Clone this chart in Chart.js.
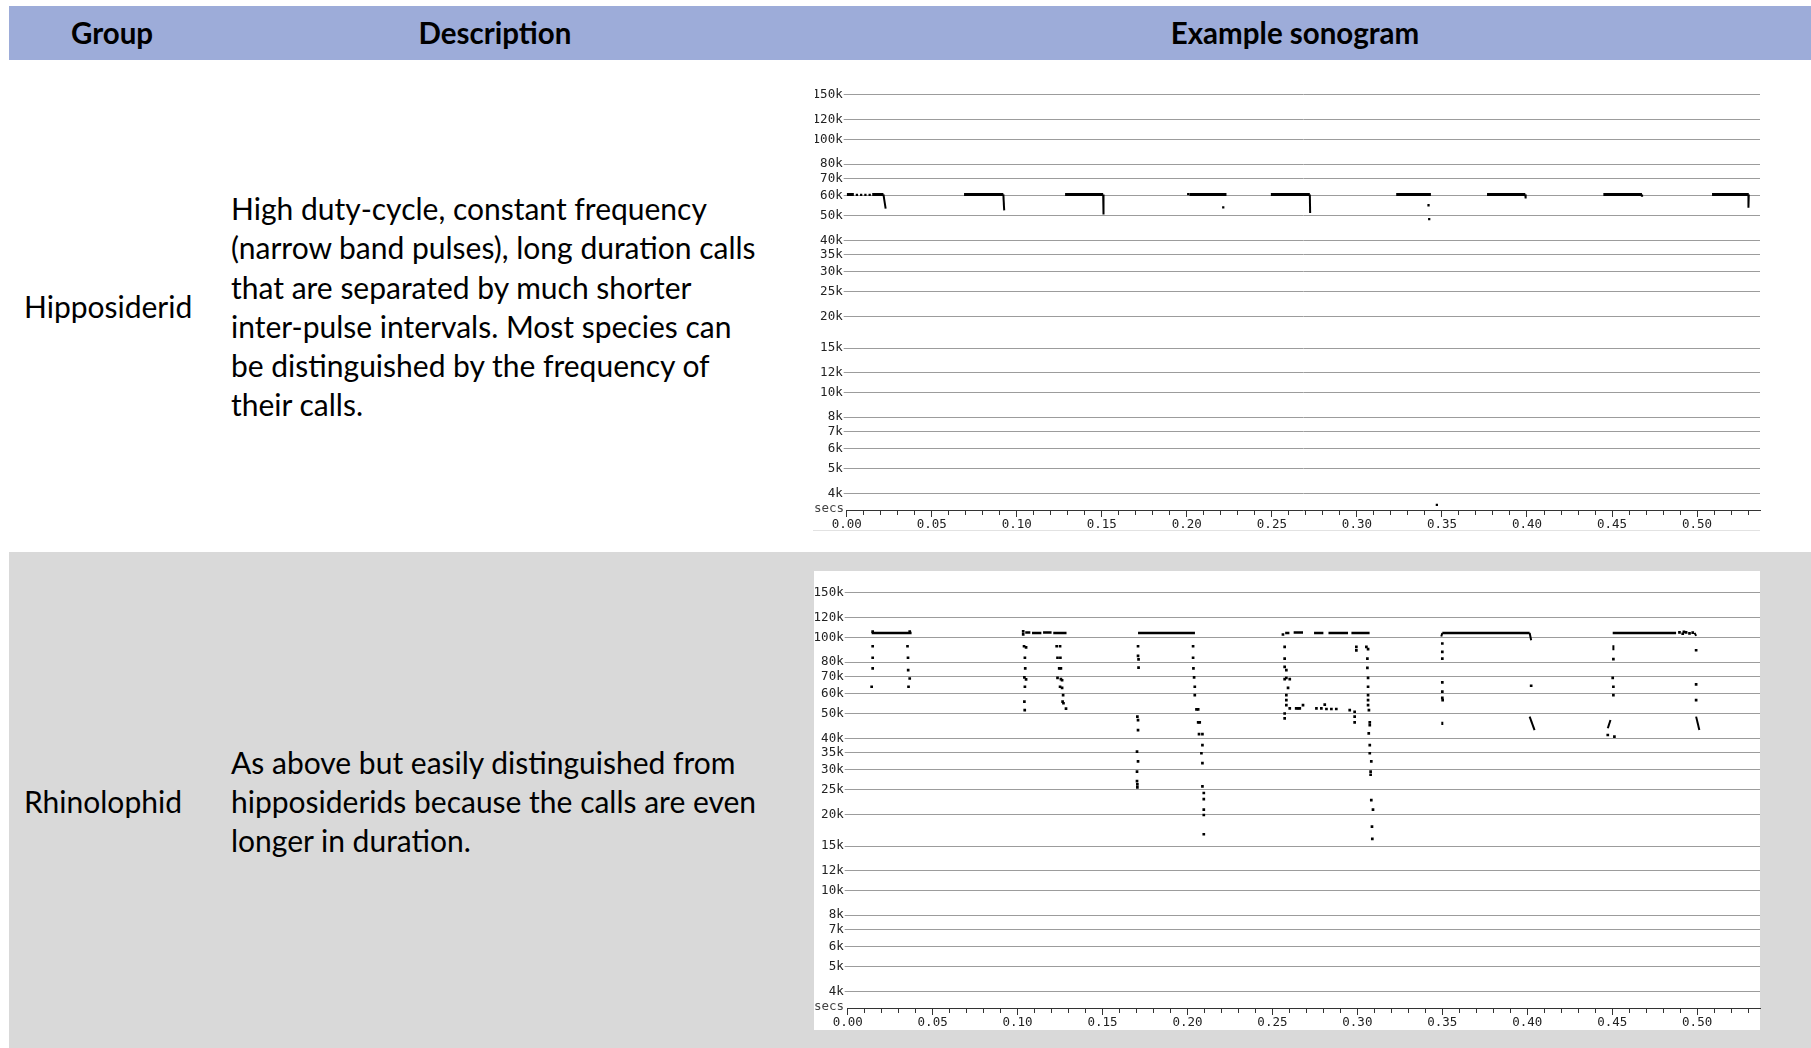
<!DOCTYPE html>
<html><head><meta charset="utf-8">
<script src="https://cdn.jsdelivr.net/npm/chart.js@4/dist/chart.umd.min.js"></script>
<style>
html,body{margin:0;padding:0;background:#fff;}
body{width:1811px;height:1048px;position:relative;overflow:hidden;font-family:Lato,'Open Sans',sans-serif;color:#000;}
.hdr{position:absolute;left:9px;top:6px;width:1802px;height:54px;background:#9dacd9;}
.h{position:absolute;top:6px;height:54px;line-height:54px;font-weight:bold;font-size:29.5px;transform:translateX(-50%);white-space:nowrap;}
.row2{position:absolute;left:9px;top:552px;width:1802px;height:496px;background:#d9d9d9;}
.grp{position:absolute;left:24px;font-size:30px;line-height:39.3px;white-space:nowrap;}
.desc{position:absolute;left:231px;font-size:30px;line-height:39.3px;white-space:nowrap;}
.box{position:absolute;background:#fff;}
.cv{position:absolute;}
.secs{position:absolute;font-family:'DejaVu Sans Mono';font-size:12.5px;line-height:12px;color:#444;}
.cover{position:absolute;background:#fff;}
</style></head>
<body>
<div class="hdr"></div>
<div class="h" style="left:112px">Group</div>
<div class="h" style="left:495px">Description</div>
<div class="h" style="left:1295px">Example sonogram</div>

<div class="row2"></div>

<div class="grp" style="top:287px">Hipposiderid</div>
<div class="desc" style="top:189px">High duty-cycle, constant frequency<br>(narrow band pulses), long duration calls<br>that are separated by much shorter<br>inter-pulse intervals. Most species can<br>be distinguished by the frequency of<br>their calls.</div>

<div class="grp" style="top:782px">Rhinolophid</div>
<div class="desc" style="top:742.6px">As above but easily distinguished from<br>hipposiderids because the calls are even<br>longer in duration.</div>

<div class="box" style="left:813px;top:75px;width:947px;height:455px;border-bottom:1px solid #e2e2e2;"></div>
<div class="box" style="left:814px;top:571px;width:946px;height:459px;"></div>

<canvas id="c1" class="cv" width="970" height="470" style="left:800px;top:70px"></canvas>
<div class="cover" style="left:800px;top:75px;width:15px;height:440px"></div>
<div class="secs" style="left:814px;top:502px">secs</div>

<canvas id="c2" class="cv" width="969" height="470" style="left:801px;top:568px"></canvas>
<div class="secs" style="left:814px;top:1000px">secs</div>

<script>
// ---------- axis ticks ----------
const freqTicks = [4, 5, 6, 7, 8, 10, 12, 15, 20, 25, 30, 35, 40, 50, 60, 70, 80, 100, 120, 150];
const freqTickLabels = ['4k','5k','6k','7k','8k','10k','12k','15k','20k','25k','30k','35k','40k','50k','60k','70k','80k','100k','120k','150k'];
const timeTickLabels = ['0.00','0.05','0.10','0.15','0.20','0.25','0.30','0.35','0.40','0.45','0.50'];
const timeMinorPerMajor = 5;
const timeMaxTick = 0.53;

// ---------- Hipposiderid sonogram (time s, frequency kHz) ----------
const hippoCFStart = [0.0000, 0.0150, 0.0690, 0.1284, 0.2015, 0.2494, 0.3231, 0.3765, 0.4449, 0.5088];
const hippoCFEnd   = [0.0042, 0.0216, 0.0921, 0.1508, 0.2233, 0.2723, 0.3435, 0.3990, 0.4676, 0.5304];
const hippoCFFreq  = [60.7, 60.7, 60.7, 60.7, 60.7, 60.7, 60.7, 60.7, 60.7, 60.7];
const hippoTailT0 = [0.0216, 0.0921, 0.1508, 0.2723, 0.3990, 0.5304];
const hippoTailF0 = [60.7, 60.7, 60.7, 60.7, 60.7, 60.7];
const hippoTailT1 = [0.0229, 0.0926, 0.1510, 0.2725, 0.3992, 0.5302];
const hippoTailF1 = [53.3, 52.5, 50.6, 51.3, 58.5, 53.8];
const hippoDotT = [0.0060, 0.0085, 0.0110, 0.0135, 0.2008, 0.2214, 0.3421, 0.3425, 0.3470, 0.4676];
const hippoDotF = [60.4, 60.4, 60.4, 60.4, 60.9, 54.0, 55.0, 48.5, 3.6, 60.0];

// ---------- Rhinolophid sonogram ----------
const rhinoCFStart = [0.0141, 0.1045, 0.1085, 0.1150, 0.1210, 0.1709, 0.2575, 0.2625, 0.2745, 0.2830, 0.2965, 0.3500, 0.4503];
const rhinoCFEnd   = [0.0376, 0.1075, 0.1140, 0.1200, 0.1288, 0.2044, 0.2600, 0.2680, 0.2800, 0.2945, 0.3072, 0.4014, 0.4876];
const rhinoCFFreq  = [104.3, 104.8, 104.3, 104.8, 104.3, 104.3, 104.3, 104.6, 104.3, 104.3, 104.3, 104.3, 104.3];
const rhinoStrokeT0 = [0.3494, 0.4014, 0.4014, 0.4994, 0.4490, 0.3500, 0.4507, 0.4985];
const rhinoStrokeF0 = [101.0, 104.3, 48.7, 48.7, 47.2, 46.5, 93.2, 104.3];
const rhinoStrokeT1 = [0.3500, 0.4023, 0.4043, 0.5013, 0.4474, 0.3500, 0.4507, 0.4994];
const rhinoStrokeF1 = [104.3, 97.6, 43.1, 43.1, 43.8, 45.1, 89.1, 101.5];
const rhinoDotT = [
  0.0147, 0.0147, 0.0147, 0.0141, 0.0352, 0.0355, 0.0356, 0.0365, 0.0358, 0.0147, 0.0365,
  0.1033, 0.1033, 0.1038, 0.1050, 0.1043, 0.1045, 0.1040, 0.1050, 0.1043, 0.1040, 0.1042,
  0.1230, 0.1250, 0.1235, 0.1252, 0.1245, 0.1255, 0.1235, 0.1255, 0.1262, 0.1250, 0.1262, 0.1268, 0.1265, 0.1270, 0.1285,
  0.1709, 0.1709, 0.1712, 0.1712, 0.1705, 0.1709, 0.1709, 0.1703, 0.1709, 0.1703, 0.1703, 0.1705, 0.1705,
  0.2033, 0.2033, 0.2035, 0.2039, 0.2043, 0.2043, 0.2053, 0.2063, 0.2063, 0.2072, 0.2068, 0.2088, 0.2088, 0.2082, 0.2088, 0.2088, 0.2096, 0.2096, 0.2096, 0.2096, 0.2096,
  0.2562, 0.2572, 0.2572, 0.2572, 0.2582, 0.2582, 0.2572, 0.2602, 0.2592, 0.2582, 0.2582, 0.2582, 0.2602, 0.2640, 0.2651, 0.2572, 0.2572,
  0.2661, 0.2680, 0.2759, 0.2788, 0.2808, 0.2818, 0.2847, 0.2876, 0.2955, 0.2984, 0.2984, 0.2984,
  0.2994, 0.2994, 0.3053, 0.3063, 0.3059, 0.3059, 0.3063, 0.3063, 0.3063, 0.3063, 0.3063, 0.3068, 0.3073, 0.3073, 0.3067, 0.3073, 0.3073, 0.3082, 0.3078, 0.3078, 0.3082, 0.3092, 0.3086, 0.3088,
  0.3500, 0.3500, 0.3500, 0.3500, 0.3500, 0.3500, 0.3502, 0.4023,
  0.4507, 0.4503, 0.4507, 0.4507, 0.4474, 0.4513, 0.4994, 0.4994, 0.4994,
  0.4896, 0.4915, 0.4922, 0.4935, 0.4955, 0.4974
];
const rhinoDotF = [
  92.4, 83.2, 75.5, 63.9, 92.4, 83.2, 74.3, 68.9, 63.9, 105.5, 105.5,
  105.8, 103.0, 92.4, 91.5, 83.2, 75.5, 69.6, 68.3, 63.9, 55.8, 51.7,
  92.4, 92.4, 83.2, 83.2, 75.5, 75.5, 69.3, 68.5, 67.8, 63.9, 63.3, 59.2, 55.8, 55.0, 52.4,
  92.4, 84.6, 82.0, 76.1, 48.7, 47.2, 43.1, 35.4, 32.4, 29.5, 27.1, 26.3, 25.6,
  92.4, 83.2, 75.5, 69.6, 63.9, 59.2, 52.0, 52.0, 46.2, 46.2, 41.5, 41.5, 37.6, 34.9, 31.9, 25.8, 24.3, 23.0, 20.9, 19.9, 16.7,
  102.8, 91.9, 82.6, 76.6, 74.3, 69.3, 68.5, 68.5, 63.3, 59.2, 56.6, 54.1, 52.5, 52.5, 52.5, 50.1, 47.9,
  52.5, 54.1, 52.5, 52.5, 54.3, 52.2, 52.2, 52.2, 51.7, 50.9, 48.7, 46.2,
  91.9, 89.0, 91.9, 90.0, 82.6, 75.9, 69.3, 63.9, 59.2, 56.6, 54.1, 51.7, 46.2, 45.1, 41.8, 37.6, 34.9, 32.4, 29.5, 28.7, 22.8, 20.9, 17.9, 16.0,
  94.7, 87.8, 82.6, 66.5, 61.1, 57.8, 56.6, 64.5,
  82.2, 69.3, 63.9, 59.2, 41.2, 40.6, 89.1, 65.3, 56.6,
  104.8, 103.5, 105.3, 104.8, 103.8, 104.5
];

// ---------- chart builder ----------
const timeTicks = [];
for (let i = 0; Math.round(i) <= Math.round(timeMaxTick * 100); i++) timeTicks.push(i / 100);

function lineSets(t0, f0, t1, f1, width) {
  return t0.map((t, i) => ({
    data: [{x: t, y: f0[i]}, {x: t1[i], y: f1[i]}],
    showLine: true, borderColor: '#000', borderWidth: width,
    pointRadius: 0, borderCapStyle: 'butt', fill: false
  }));
}
function dotSet(ts, fs, r) {
  return {
    data: ts.map((t, i) => ({x: t, y: fs[i]})),
    showLine: false, pointStyle: 'rect', pointRadius: r,
    pointBackgroundColor: '#000', pointBorderWidth: 0, borderWidth: 0
  };
}

const tickFont = {family: 'DejaVu Sans Mono', size: 12.5};

function makeChart(id, datasets) {
  return new Chart(document.getElementById(id), {
    type: 'scatter',
    data: {datasets},
    options: {
      responsive: false, animation: false, devicePixelRatio: 1,
      layout: {padding: {top: 10, right: 10, left: 0, bottom: 0}},
      plugins: {legend: {display: false}, tooltip: {enabled: false}},
      scales: {
        x: {
          type: 'linear', min: 0, max: 0.537, position: 'bottom',
          afterBuildTicks: s => { s.ticks = timeTicks.map(v => ({value: v})); },
          afterFit: s => { s.height = 30; },
          ticks: {
            autoSkip: false, maxRotation: 0, minRotation: 0, padding: 0,
            color: '#222', font: tickFont,
            callback: (v, i) => (i % timeMinorPerMajor === 0 ? timeTickLabels[i / timeMinorPerMajor] : '')
          },
          grid: {
            drawOnChartArea: false, drawTicks: true, tickLength: 7,
            tickColor: '#333', tickWidth: 1,
            tickBorderDash: ctx => (ctx.index % timeMinorPerMajor === 0 ? [] : [4, 20])
          },
          border: {display: true, color: '#333', width: 1}
        },
        y: {
          type: 'logarithmic', min: 3.437, max: 171.9,
          afterBuildTicks: s => { s.ticks = freqTicks.map(v => ({value: v})); },
          afterFit: s => { s.width = 46.7; },
          ticks: {
            autoSkip: false, padding: 1, color: '#222', font: tickFont,
            callback: (v, i) => freqTickLabels[i]
          },
          grid: {color: '#9c9c9c', lineWidth: 1, tickLength: 3, drawTicks: true},
          border: {display: false}
        }
      }
    }
  });
}

const hippoSets = [].concat(
  lineSets(hippoCFStart, hippoCFFreq, hippoCFEnd, hippoCFFreq, 3),
  lineSets(hippoTailT0, hippoTailF0, hippoTailT1, hippoTailF1, 2),
  [dotSet(hippoDotT, hippoDotF, 1.6)]
);
const rhinoSets = [].concat(
  lineSets(rhinoCFStart, rhinoCFFreq, rhinoCFEnd, rhinoCFFreq, 2.5),
  lineSets(rhinoStrokeT0, rhinoStrokeF0, rhinoStrokeT1, rhinoStrokeF1, 2),
  [dotSet(rhinoDotT, rhinoDotF, 1.9)]
);
makeChart('c1', hippoSets);
makeChart('c2', rhinoSets);
</script>
</body></html>
